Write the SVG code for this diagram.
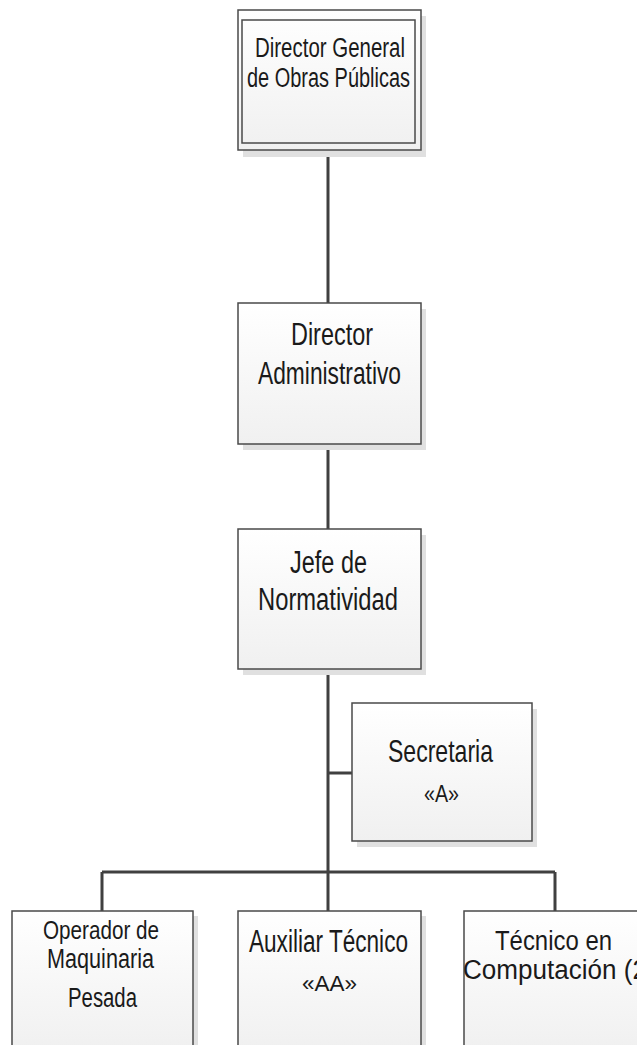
<svg xmlns="http://www.w3.org/2000/svg" width="637" height="1045" viewBox="0 0 637 1045">
<style>
.bx{fill:url(#g);stroke:#4a4a4a;stroke-width:1.5}
.sh{fill:#e0e0e0}
.t{font-family:"Liberation Sans",Arial,sans-serif;fill:#1a1a1a;text-anchor:middle}
.c{stroke:#404040;stroke-width:3;fill:none}
</style>
<defs>
<linearGradient id="g" x1="0" y1="0" x2="0" y2="1">
<stop offset="0" stop-color="#ffffff"/>
<stop offset="1" stop-color="#f0f0f0"/>
</linearGradient>
</defs>
<rect width="637" height="1045" fill="#ffffff"/>
<g id="connectors">
<path class="c" d="M328 150V303M328 444V529M328 669V872M328 773H352M102 872H555M102 872V911M328 872V911M555 872V911"/>
</g>
<g id="n1">
<rect class="sh" x="243" y="16" width="183" height="141"/>
<rect class="bx" x="238" y="10" width="183" height="140"/>
<rect x="242" y="20" width="173" height="123" fill="none" stroke="#4a4a4a" stroke-width="1.5"/>
<text class="t" x="330" y="57" font-size="27" textLength="150" lengthAdjust="spacingAndGlyphs">Director General</text>
<text class="t" x="328.5" y="87" font-size="27" textLength="163" lengthAdjust="spacingAndGlyphs">de Obras Públicas</text>
</g>
<g id="n2">
<rect class="sh" x="243" y="309" width="183" height="141"/>
<rect class="bx" x="238" y="303" width="183" height="141"/>
<text class="t" x="332" y="345" font-size="32" textLength="82" lengthAdjust="spacingAndGlyphs">Director</text>
<text class="t" x="329.5" y="384" font-size="32" textLength="143" lengthAdjust="spacingAndGlyphs">Administrativo</text>
</g>
<g id="n3">
<rect class="sh" x="243" y="535" width="183" height="140"/>
<rect class="bx" x="238" y="529" width="183" height="140"/>
<text class="t" x="328.5" y="573" font-size="31" textLength="77" lengthAdjust="spacingAndGlyphs">Jefe de</text>
<text class="t" x="328" y="610" font-size="31" textLength="140" lengthAdjust="spacingAndGlyphs">Normatividad</text>
</g>
<g id="n4">
<rect class="sh" x="357" y="709" width="180" height="138"/>
<rect class="bx" x="352" y="703" width="180" height="138"/>
<text class="t" x="440.5" y="762" font-size="32" textLength="105" lengthAdjust="spacingAndGlyphs">Secretaria</text>
<text class="t" x="441.5" y="802" font-size="23" textLength="35" lengthAdjust="spacingAndGlyphs">«A»</text>
</g>
<g id="n5">
<rect class="sh" x="17" y="916" width="181" height="140"/>
<rect class="bx" x="12" y="911" width="181" height="140"/>
<text class="t" x="101" y="939" font-size="26" textLength="116" lengthAdjust="spacingAndGlyphs">Operador de</text>
<text class="t" x="100.5" y="968" font-size="27" textLength="107" lengthAdjust="spacingAndGlyphs">Maquinaria</text>
<text class="t" x="102.5" y="1007" font-size="27" textLength="69" lengthAdjust="spacingAndGlyphs">Pesada</text>
</g>
<g id="n6">
<rect class="sh" x="243" y="916" width="183" height="140"/>
<rect class="bx" x="238" y="911" width="183" height="140"/>
<text class="t" x="328.5" y="952" font-size="31" textLength="159" lengthAdjust="spacingAndGlyphs">Auxiliar Técnico</text>
<text class="t" x="329.5" y="991" font-size="22" textLength="55" lengthAdjust="spacingAndGlyphs">«AA»</text>
</g>
<g id="n7">
<rect class="sh" x="469" y="916" width="183" height="140"/>
<rect class="bx" x="464" y="911" width="183" height="140"/>
<text class="t" x="553.5" y="950" font-size="28" textLength="117" lengthAdjust="spacingAndGlyphs">Técnico en</text>
<text class="t" x="463" y="979" font-size="27" style="text-anchor:start" textLength="184" lengthAdjust="spacingAndGlyphs">Computación (2</text>
</g>
</svg>
